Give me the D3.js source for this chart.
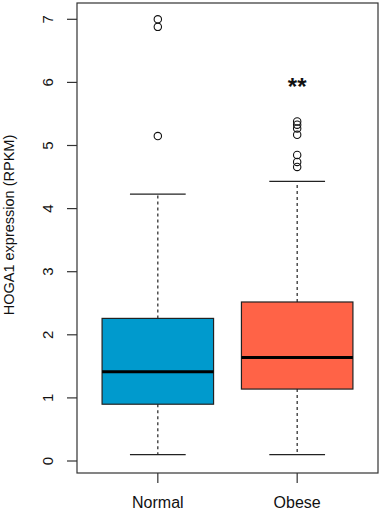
<!DOCTYPE html>
<html>
<head>
<meta charset="utf-8">
<script src="https://cdn.jsdelivr.net/npm/d3@7"></script>
<style>
  body { margin: 0; background: #fff; }
  text { font-family: "Liberation Sans", Arial, sans-serif; }
</style>
</head>
<body>
<svg width="381" height="510"></svg>
<script>
// data
const groups = ["Normal", "Obese"];
const colors = ["#009ACD", "#FF6347"];
const lowWhisker = [0.1, 0.1];
const q1 = [0.9, 1.14];
const median = [1.415, 1.64];
const q3 = [2.26, 2.52];
const highWhisker = [4.23, 4.43];
const outliers = [
  [5.15, 6.88, 7.0],
  [4.66, 4.74, 4.85, 5.17, 5.27, 5.33, 5.38]
];
const yTicks = [0, 1, 2, 3, 4, 5, 6, 7];
const signif = ["", "**"];

const svg = d3.select("svg");
const plotL = 77, plotR = 378, plotT = 3, plotB = 473;

const y = d3.scaleLinear().domain([0, 7]).range([461, 19.3]);
const x = d3.scalePoint().domain(groups).range([plotL, plotR]).padding(0.58);
const step = x.step();
const boxW = step * 0.8;
const capW = boxW / 2;

const data = groups.map((g, i) => ({
  g, color: colors[i], lo: lowWhisker[i], q1: q1[i], med: median[i],
  q3: q3[i], hi: highWhisker[i], out: outliers[i], sig: signif[i]
}));

// plot frame
svg.append("rect")
  .attr("x", plotL).attr("y", plotT)
  .attr("width", plotR - plotL).attr("height", plotB - plotT)
  .attr("fill", "none").attr("stroke", "#333").attr("stroke-width", 1.2);

// y axis
const yAxis = svg.append("g");
yAxis.selectAll("line")
  .data(yTicks).enter().append("line")
  .attr("x1", plotL - 10).attr("x2", plotL)
  .attr("y1", d => y(d)).attr("y2", d => y(d))
  .attr("stroke", "#333").attr("stroke-width", 1.2);
yAxis.selectAll("text")
  .data(yTicks).enter().append("text")
  .attr("transform", d => `translate(53,${y(d)}) rotate(-90)`)
  .attr("text-anchor", "middle")
  .attr("font-size", 15)
  .attr("fill", "#111")
  .text(d => d);

svg.append("text")
  .attr("transform", `translate(14,225) rotate(-90)`)
  .attr("text-anchor", "middle")
  .attr("font-size", 14.5)
  .attr("fill", "#111")
  .text("HOGA1 expression (RPKM)");

// x axis
const xAxis = svg.append("g");
xAxis.selectAll("line")
  .data(groups).enter().append("line")
  .attr("x1", d => x(d)).attr("x2", d => x(d))
  .attr("y1", plotB).attr("y2", plotB + 10)
  .attr("stroke", "#333").attr("stroke-width", 1.2);
xAxis.selectAll("text")
  .data(groups).enter().append("text")
  .attr("x", d => x(d)).attr("y", 508)
  .attr("text-anchor", "middle")
  .attr("font-size", 16)
  .attr("fill", "#111")
  .text(d => d);

// boxes
const box = svg.selectAll("g.box")
  .data(data).enter().append("g").attr("class", "box");

box.append("line")
  .attr("x1", d => x(d.g)).attr("x2", d => x(d.g))
  .attr("y1", d => y(d.q3)).attr("y2", d => y(d.hi))
  .attr("stroke", "#222").attr("stroke-width", 1.2)
  .attr("stroke-dasharray", "3,3");
box.append("line")
  .attr("x1", d => x(d.g)).attr("x2", d => x(d.g))
  .attr("y1", d => y(d.q1)).attr("y2", d => y(d.lo))
  .attr("stroke", "#222").attr("stroke-width", 1.2)
  .attr("stroke-dasharray", "3,3");

box.append("line")
  .attr("x1", d => x(d.g) - capW / 2).attr("x2", d => x(d.g) + capW / 2)
  .attr("y1", d => y(d.hi)).attr("y2", d => y(d.hi))
  .attr("stroke", "#222").attr("stroke-width", 1.2);
box.append("line")
  .attr("x1", d => x(d.g) - capW / 2).attr("x2", d => x(d.g) + capW / 2)
  .attr("y1", d => y(d.lo)).attr("y2", d => y(d.lo))
  .attr("stroke", "#222").attr("stroke-width", 1.2);

box.append("rect")
  .attr("x", d => x(d.g) - boxW / 2).attr("width", boxW)
  .attr("y", d => y(d.q3)).attr("height", d => y(d.q1) - y(d.q3))
  .attr("fill", d => d.color)
  .attr("stroke", "#222").attr("stroke-width", 1.2);

box.append("line")
  .attr("x1", d => x(d.g) - boxW / 2).attr("x2", d => x(d.g) + boxW / 2)
  .attr("y1", d => y(d.med)).attr("y2", d => y(d.med))
  .attr("stroke", "#000").attr("stroke-width", 3);

box.selectAll("circle")
  .data(d => d.out.map(v => ({ g: d.g, v })))
  .enter().append("circle")
  .attr("cx", d => x(d.g)).attr("cy", d => y(d.v))
  .attr("r", 3.7)
  .attr("fill", "none").attr("stroke", "#111").attr("stroke-width", 1.1);

box.append("text")
  .attr("x", d => x(d.g)).attr("y", d => y(6) + 13)
  .attr("text-anchor", "middle")
  .attr("font-size", 24)
  .attr("font-weight", "bold")
  .attr("fill", "#111")
  .text(d => d.sig);
</script>
</body>
</html>
